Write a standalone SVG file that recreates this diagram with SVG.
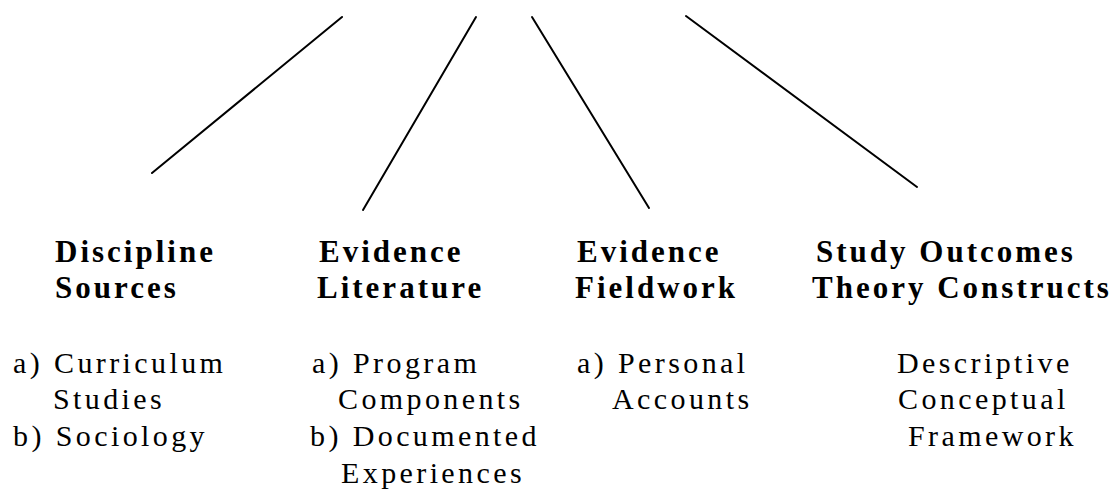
<svg xmlns="http://www.w3.org/2000/svg" width="1112" height="493" viewBox="0 0 1112 493">
<style>
.h{font-family:"Liberation Serif","Times New Roman",serif;font-size:31px;font-weight:bold;letter-spacing:3px;fill:#000}
.t{font-family:"Liberation Serif","Times New Roman",serif;font-size:30px;letter-spacing:3.4px;fill:#000}
.c{stroke:#000;stroke-width:2;fill:none;stroke-linecap:round}
</style>
<rect width="1112" height="493" fill="#fff"/>
<g id="connectors">
<line class="c" x1="342" y1="17" x2="152" y2="173"/>
<line class="c" x1="476" y1="17" x2="363" y2="210"/>
<line class="c" x1="532" y1="17" x2="649" y2="208"/>
<line class="c" x1="686" y1="16" x2="917" y2="187"/>
</g>
<g id="discipline">
<text class="h" x="55" y="262">Discipline</text>
<text class="h" x="55" y="298">Sources</text>
<text class="t" x="13" y="373">a) Curriculum</text>
<text class="t" x="53" y="409">Studies</text>
<text class="t" x="13" y="446">b) Sociology</text>
</g>
<g id="literature">
<text class="h" x="319" y="262">Evidence</text>
<text class="h" x="317" y="298">Literature</text>
<text class="t" x="312" y="373">a) Program</text>
<text class="t" x="338" y="409">Components</text>
<text class="t" x="310" y="446">b) Documented</text>
<text class="t" x="341" y="483">Experiences</text>
</g>
<g id="fieldwork">
<text class="h" x="577" y="262">Evidence</text>
<text class="h" x="575" y="298">Fieldwork</text>
<text class="t" x="577" y="373">a) Personal</text>
<text class="t" x="612" y="409">Accounts</text>
</g>
<g id="outcomes">
<text class="h" x="816" y="262">Study Outcomes</text>
<text class="h" x="812" y="298">Theory Constructs</text>
<text class="t" x="897" y="373">Descriptive</text>
<text class="t" x="898" y="409">Conceptual</text>
<text class="t" x="908" y="446">Framework</text>
</g>
</svg>
